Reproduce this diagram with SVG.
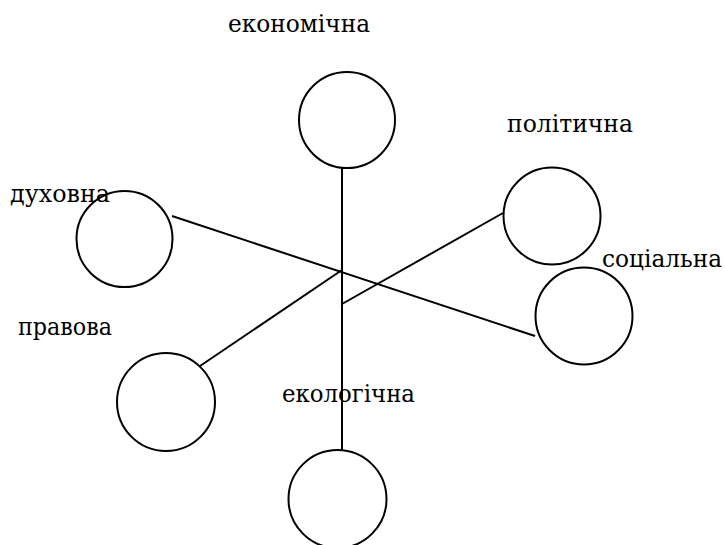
<svg xmlns="http://www.w3.org/2000/svg" width="725" height="545" viewBox="0 0 725 545">
<style>
.n{fill:none;stroke:#000;stroke-width:2}
.c{stroke:#000;stroke-width:2;fill:none}
.t{font-family:'DejaVu Serif','Liberation Serif',serif;font-size:24px;fill:#000}
</style>
<rect width="725" height="545" fill="#fff"/>
<g id="labels">
<text class="t" x="228" y="32" textLength="142" lengthAdjust="spacingAndGlyphs">економічна</text>
<text class="t" x="507" y="132" textLength="126" lengthAdjust="spacingAndGlyphs">політична</text>
<text class="t" x="10" y="202" textLength="100" lengthAdjust="spacingAndGlyphs">духовна</text>
<text class="t" x="602" y="267" textLength="120" lengthAdjust="spacingAndGlyphs">соціальна</text>
<text class="t" x="18" y="335" textLength="94" lengthAdjust="spacingAndGlyphs">правова</text>
<text class="t" x="282" y="402" textLength="133" lengthAdjust="spacingAndGlyphs">екологічна</text>
</g>
<g id="connectors">
<line class="c" x1="342" y1="168" x2="342" y2="450"/>
<line class="c" x1="172" y1="216" x2="535" y2="336"/>
<line class="c" x1="200" y1="366" x2="342" y2="270"/>
<line class="c" x1="503" y1="213" x2="342" y2="304"/>
</g>
<g id="ekonomichna"><circle class="n" cx="347" cy="120" r="48"/></g>
<g id="politychna"><circle class="n" cx="552" cy="216" r="48.5"/></g>
<g id="dukhovna"><circle class="n" cx="124.5" cy="239" r="48"/></g>
<g id="sotsialna"><circle class="n" cx="584" cy="316" r="48.5"/></g>
<g id="pravova"><circle class="n" cx="166" cy="402" r="49"/></g>
<g id="ekolohichna"><circle class="n" cx="337.5" cy="499" r="49"/></g>
</svg>
